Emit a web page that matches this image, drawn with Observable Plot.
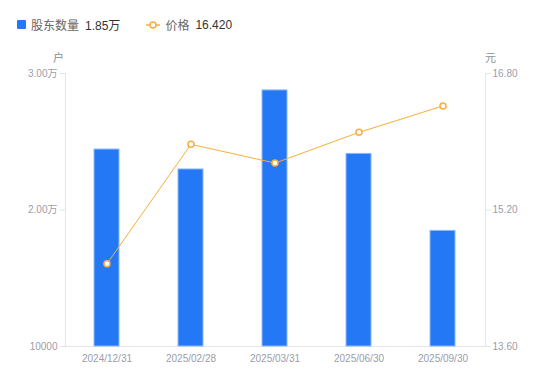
<!DOCTYPE html>
<html><head><meta charset="utf-8">
<script src="https://cdn.jsdelivr.net/npm/d3@7"></script>
<script src="https://cdn.jsdelivr.net/npm/@observablehq/plot@0.6"></script>
<style>
html,body{margin:0;padding:0;background:#fff;}
#wrap{position:relative;width:550px;height:381px;font-family:"Liberation Sans",Arial,"Noto Sans CJK SC",sans-serif;}
#legend{position:absolute;left:17px;top:16px;font-size:12px;display:flex;align-items:center;white-space:nowrap;}
.sw{display:inline-block;width:9px;height:9px;background:#2478F5;border-radius:1px;margin-right:5px;}
.lab{color:#666;margin-right:6px;}
.val{color:#333;}
.unit{position:absolute;top:49px;font-size:11px;color:#8c8f99;}
</style></head>
<body><div id="wrap">
<div id="legend"></div>
<div class="unit" style="left:53px">户</div>
<div class="unit" style="left:485px">元</div>
<div id="chart"></div>
</div>
<script>
const dates = ["2024/12/31","2025/02/28","2025/03/31","2025/06/30","2025/09/30"];
const holders = [24430, 22970, 28760, 24110, 18470];
const prices = [14.57, 15.97, 15.75, 16.11, 16.42];
const leftTicks = [10000, 20000, 30000];
const leftTickLabels = ["10000", "2.00万", "3.00万"];
const rightTicks = [13.6, 15.2, 16.8];
const rightTickLabels = ["13.60", "15.20", "16.80"];
const legendNames = ["股东数量", "价格"];
const legendValues = ["1.85万", "16.420"];

const barColor = "#2478F5";
const lineColor = "#F9AE3A";
const axisColor = "#e3e5ea";
const textColor = "#9a9daa";

// map price to left scale
const pMin = rightTicks[0], pMax = rightTicks[rightTicks.length-1];
const lMin = leftTicks[0], lMax = leftTicks[leftTicks.length-1];
const p2l = p => lMin + (p - pMin) / (pMax - pMin) * (lMax - lMin);

const data = dates.map((d,i) => ({date:d, holders:holders[i], price:prices[i], py:p2l(prices[i])}));

const lg = document.getElementById("legend");
lg.innerHTML = `<span class="sw"></span><span class="lab">${legendNames[0]}</span><span class="val">${legendValues[0]}</span>
<svg width="14" height="10" style="margin-left:26px;margin-right:5px"><line x1="0" y1="5" x2="14" y2="5" stroke="${lineColor}" stroke-width="1.5"/><circle cx="7" cy="5" r="3" fill="#fff" stroke="${lineColor}" stroke-width="1.5"/></svg><span class="lab">${legendNames[1]}</span><span class="val">${legendValues[1]}</span>`;

const chart = Plot.plot({
  width: 550,
  height: 381,
  marginTop: 73,
  marginBottom: 35,
  marginLeft: 65,
  marginRight: 65,
  style: {fontFamily: '"Liberation Sans", Arial, "Noto Sans CJK SC", sans-serif', fontSize: "10px", background: "#fff"},
  x: {type: "band", domain: dates, paddingInner: 0.7, paddingOuter: 0.35, axis: null},
  y: {domain: [lMin, lMax], axis: null},
  marks: [
    Plot.frame({anchor: "left", stroke: axisColor}),
    Plot.frame({anchor: "right", stroke: axisColor}),
    Plot.frame({anchor: "bottom", stroke: axisColor}),
    Plot.axisY({ticks: leftTicks, tickFormat: (d,i) => leftTickLabels[leftTicks.indexOf(d)], anchor: "left", tickSize: 5, tickPadding: 3, stroke: axisColor, color: textColor, fill: textColor, label: null}),
    Plot.axisY({ticks: rightTicks.map(p2l), tickFormat: (d) => rightTickLabels[rightTicks.map(p2l).findIndex(v => Math.abs(v-d)<1e-6)], anchor: "right", tickSize: 5, tickPadding: 2, stroke: axisColor, fill: textColor, label: null}),
    Plot.axisX({anchor: "bottom", tickSize: 0, tickPadding: 8, fill: textColor, label: null}),
    Plot.barY(data, {x: "date", y1: lMin, y2: "holders", fill: barColor, stroke: "#8db9fa", strokeWidth: 1, inset: 0}),
    Plot.line(data, {x: "date", y: "py", stroke: lineColor, strokeWidth: 1}),
    Plot.dot(data, {x: "date", y: "py", r: 3, fill: "#fff", stroke: lineColor, strokeWidth: 1.5})
  ]
});
document.getElementById("chart").appendChild(chart);
</script>
</body></html>
